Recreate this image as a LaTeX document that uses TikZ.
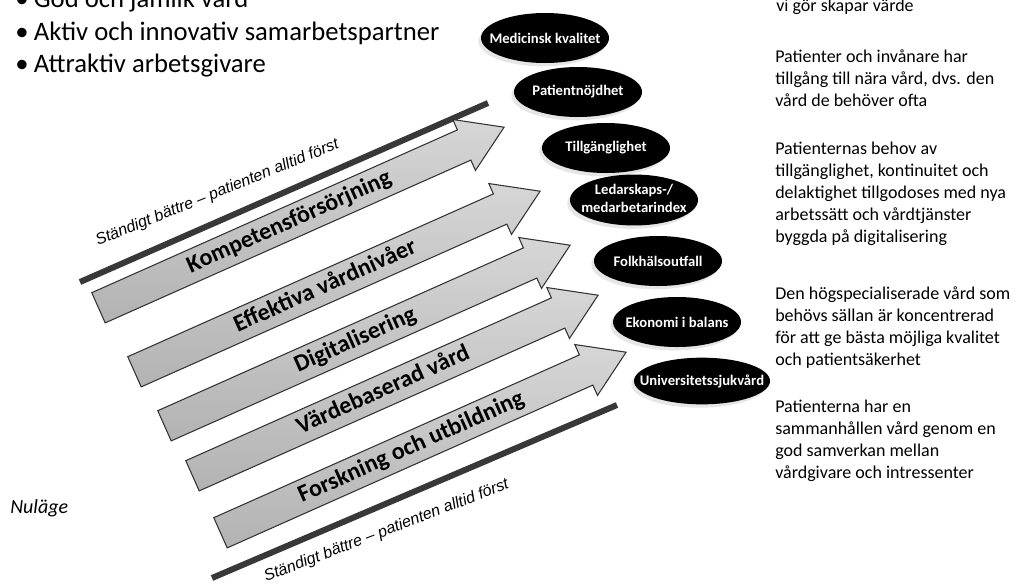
\documentclass[tikz,border=0pt]{standalone}
\usepackage{fontspec}
\setmainfont{Carlito}
\newfontfamily\mottofont{Liberation Sans}
\usetikzlibrary{shapes.arrows,shapes.geometric,shadows}

\begin{document}
\begin{tikzpicture}[x=0.75pt, y=-0.75pt,
    style={inner sep=0pt},
    pil/.style={single arrow, anchor=tail, rotate=24, draw=black!80, line width=0.8pt,
      top color=gray!32, bottom color=gray!60, minimum height=333pt,
      single arrow head extend=8.5pt, single arrow tip angle=65,
      inner xsep=2pt, inner ysep=3.5pt, text height=13pt, text depth=4pt,
      font=\fontsize{18}{20}\selectfont\bfseries},
    oval/.style={ellipse, fill=black, text=white, minimum width=96pt, minimum height=37.5pt,
      font=\fontsize{11}{13.5}\selectfont\bfseries,
      drop shadow={shadow xshift=-2pt, shadow yshift=-2.5pt, opacity=0.2}},
    bar/.style={draw=black!78, line width=4.5pt},
    motto/.style={anchor=base, font=\mottofont\itshape\fontsize{12}{14}\selectfont},
    punkt/.style={anchor=base west, font=\fontsize{20}{24}\selectfont},
    mal/.style={anchor=base west, align=left, font=\fontsize{13.5}{16.5}\selectfont}
]
\useasboundingbox (0,0) rectangle (1016,586);
\clip (0,0) rectangle (1016,586);

  % Goals, top left
  \node[punkt] (g1) at (15,7) {\textbullet\hspace{4pt}God och jämlik vård};
  \node[punkt] (g2) at (15,40) {\textbullet\hspace{4pt}Aktiv och innovativ samarbetspartner};
  \node[punkt] (g3) at (15,72) {\textbullet\hspace{4pt}Attraktiv arbetsgivare};
  \node[anchor=base west, font=\fontsize{15}{18}\selectfont\itshape] (nu) at (10,513) {Nuläge};

  % Bars with motto
  \coordinate (b1s) at (80,282);
  \coordinate (b1e) at (488,103);
  \coordinate (b2s) at (212,578);
  \coordinate (b2e) at (617,405);
  \draw[bar] (b1s) -- (b1e);
  \draw[bar] (b2s) -- (b2e);
  \node[motto, rotate=22] (m1) at (219,197) {Ständigt bättre – patienten alltid först};
  \node[motto, rotate=21] (m2) at (388,535) {Ständigt bättre – patienten alltid först};

  % Arrows
  \node[pil] (kf) at (98,308) {Kompetensförsörjning};
  \node[pil] (ev) at (134,372) {Effektiva vårdnivåer};
  \node[pil] (dg) at (164,426) {Digitalisering};
  \node[pil] (vv) at (192,476) {Värdebaserad vård};
  \node[pil] (fo) at (220,533) {Forskning och utbildning};

  % Measures
  \node[oval] (mk) at (545,38) {\makebox[0pt]{Medicinsk kvalitet}};
  \node[oval] (pn) at (578,92) {\makebox[0pt]{Patientnöjdhet}};
  \node[oval] (tg) at (606,148) {\makebox[0pt]{Tillgänglighet}};
  \node[oval] (li) at (634,200) {\makebox[0pt]{\begin{tabular}{@{}c@{}}Ledarskaps-/\\medarbetarindex\end{tabular}}};
  \node[oval] (fu) at (658,261) {\makebox[0pt]{Folkhälsoutfall}};
  \node[oval] (eb) at (677,322) {\makebox[0pt]{Ekonomi i balans}};
  \node[oval, minimum width=102pt, minimum height=35pt] (us) at (702,381) {\makebox[0pt]{Universitetssjukvård}};

  % Texts, right (anchored at the last line)
  \node[mal] (t0) at (776,11) {vi gör skapar värde};
  \node[mal] (t1) at (775,106) {Patienter och invånare har\\tillgång till nära vård, dvs. den\\vård de behöver ofta};
  \node[mal] (t2) at (775,242) {Patienternas behov av\\tillgänglighet, kontinuitet och\\delaktighet tillgodoses med nya\\arbetssätt och vårdtjänster\\byggda på digitalisering};
  \node[mal] (t3) at (775,365) {Den högspecialiserade vård som\\behövs sällan är koncentrerad\\för att ge bästa möjliga kvalitet\\och patientsäkerhet};
  \node[mal] (t4) at (775,478) {Patienterna har en\\sammanhållen vård genom en\\god samverkan mellan\\vårdgivare och intressenter};
\end{tikzpicture}
\end{document}
